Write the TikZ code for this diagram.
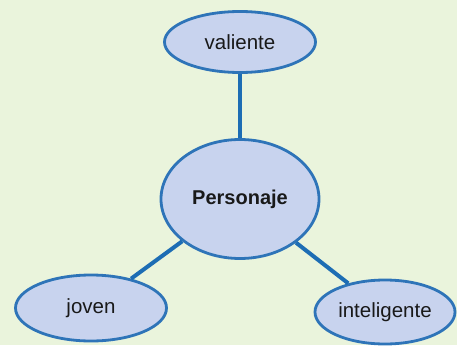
\documentclass[tikz,border=0pt]{standalone}
\usepackage{fontspec}
\setmainfont{Liberation Sans}
\usetikzlibrary{shapes.geometric}
\definecolor{bgc}{HTML}{EAF4DC}
\definecolor{ellfill}{HTML}{C8D3EE}
\definecolor{elledge}{HTML}{7E88A8}
\definecolor{elldraw}{HTML}{2E74B8}
\definecolor{linkc}{HTML}{1D6DB4}
\pgfdeclareradialshading{ellshade}{\pgfpoint{3bp}{4bp}}{%
  color(0bp)=(ellfill); color(36bp)=(ellfill); color(45bp)=(elledge!55!ellfill); color(51bp)=(elledge)}
\tikzset{
  concept/.style={ellipse, draw=elldraw, line width=2.8pt, shading=ellshade,
    inner sep=0pt, font=\fontsize{20.5}{24}\selectfont, text=black!90},
  link/.style={draw=linkc, line width=4pt}
}
\begin{document}
\begin{tikzpicture}[x=1pt,y=-1pt]
\fill[bgc] (0,0) rectangle (457,345);
\useasboundingbox (0,0) rectangle (457,345);
\node[concept, minimum width=151pt, minimum height=61pt] (val) at (240,42) {valiente};
\node[concept, minimum width=158pt, minimum height=119pt, font=\fontsize{20}{24}\selectfont\bfseries] (per) at (240,199) {Personaje};
\node[concept, minimum width=151pt, minimum height=66pt] (jov) at (91,308) {joven};
\node[concept, minimum width=140pt, minimum height=64pt] (int) at (385,312) {inteligente};
\path[link] (val) -- (per);
\path[link] (per) -- (jov);
\path[link] (per) -- (int);
\end{tikzpicture}
\end{document}
